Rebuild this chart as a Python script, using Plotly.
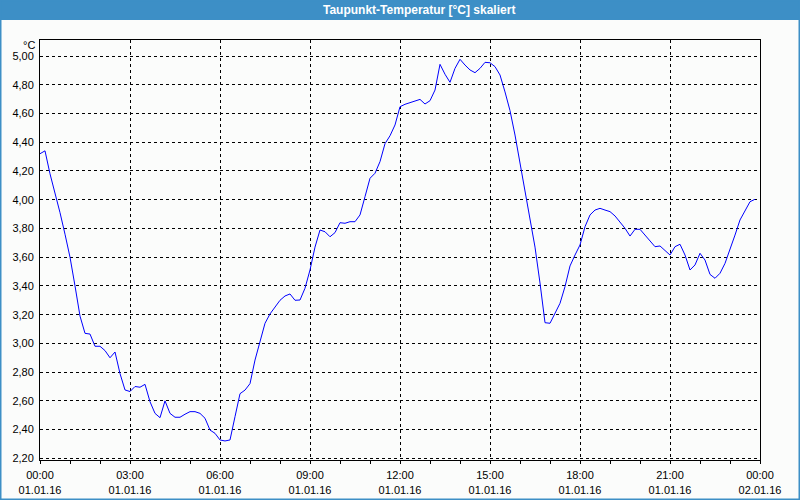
import pandas as pd
import plotly.graph_objects as go

# Dew point temperature, 10-minute samples from 01.01.16 00:00
values = [
    4.32, 4.34, 4.18, 4.05, 3.91, 3.76, 3.60, 3.40, 3.19, 3.07,
    3.065, 2.98, 2.98, 2.95, 2.90, 2.94, 2.79, 2.676, 2.665, 2.70,
    2.695, 2.715, 2.594, 2.513, 2.483, 2.60, 2.513, 2.486, 2.486, 2.507,
    2.525, 2.525, 2.513, 2.479, 2.397, 2.374, 2.328, 2.321, 2.328, 2.49,
    2.65, 2.675, 2.72, 2.884, 3.02, 3.14, 3.205, 3.255, 3.30, 3.33,
    3.344, 3.30, 3.302, 3.384, 3.511, 3.67, 3.789, 3.777, 3.742, 3.771,
    3.840, 3.836, 3.847, 3.847, 3.894, 4.021, 4.149, 4.184, 4.265, 4.39,
    4.445, 4.52, 4.647, 4.664, 4.675, 4.687, 4.698, 4.666, 4.689, 4.763,
    4.942, 4.873, 4.817, 4.914, 4.977, 4.937, 4.903, 4.884, 4.914, 4.956,
    4.953, 4.926, 4.868, 4.75, 4.62, 4.45, 4.26, 4.07, 3.87, 3.67,
    3.42, 3.144, 3.140, 3.21, 3.279, 3.395, 3.539, 3.615, 3.685, 3.812,
    3.894, 3.928, 3.940, 3.928, 3.917, 3.887, 3.847, 3.801, 3.747, 3.794,
    3.794, 3.754, 3.715, 3.673, 3.678, 3.645, 3.615, 3.673, 3.69, 3.615,
    3.511, 3.546, 3.627, 3.58, 3.48, 3.453, 3.488, 3.557, 3.650, 3.754,
    3.859, 3.928, 3.986, 4.003,
]
times = pd.date_range("2016-01-01 00:00", periods=len(values), freq="10min")

tick_times = ["2016-01-01 00:00", "2016-01-01 03:00", "2016-01-01 06:00",
              "2016-01-01 09:00", "2016-01-01 12:00", "2016-01-01 15:00",
              "2016-01-01 18:00", "2016-01-01 21:00", "2016-01-02 00:00"]
tick_labels = ["00:00<br>01.01.16", "03:00<br>01.01.16", "06:00<br>01.01.16",
               "09:00<br>01.01.16", "12:00<br>01.01.16", "15:00<br>01.01.16",
               "18:00<br>01.01.16", "21:00<br>01.01.16", "00:00<br>02.01.16"]

title_text = "Taupunkt-Temperatur [°C] skaliert"
unit_text = "°C"

BLUE = "#3d8fc6"
BG = "#fbfcfb"
FONT = "Liberation Sans"

W, H = 800, 500
L, R, T, B = 40, 40, 40, 40
pw, ph = W - L - R, H - T - B


def px_x(p):
    return (p - L) / pw


def px_y(p):
    return (H - B - p) / ph


fig = go.Figure()
fig.add_trace(go.Scatter(x=times, y=values, mode="lines",
                         line=dict(color="#0000ff", width=1),
                         hoverinfo="skip", showlegend=False))

fig.update_layout(
    width=W, height=H,
    margin=dict(l=L, r=R, t=T, b=B, pad=0, autoexpand=False),
    paper_bgcolor=BG, plot_bgcolor=BG,
    separators=",.",
    font=dict(family=FONT, size=11, color="black"),
    showlegend=False,
)

fig.update_xaxes(
    range=["2016-01-01 00:00", "2016-01-02 00:00"],
    tickvals=tick_times, ticktext=tick_labels,
    automargin=False,
    showline=True, linecolor="black", linewidth=1, mirror=True,
    ticks="outside", ticklen=3, tickcolor="black", tickwidth=1,
    ticklabelstandoff=2,
    showgrid=True, gridcolor="black", gridwidth=1, griddash="3px,3px",
    minor=dict(dtick=3600000, tick0="2016-01-01 00:00", ticks="outside",
               ticklen=3, tickcolor="black", showgrid=False),
    zeroline=False,
    tickfont=dict(family=FONT, size=11, color="black"),
)

fig.update_yaxes(
    range=[2.1885, 5.1114],
    tick0=2.2, dtick=0.2, tickformat=".2f",
    automargin=False,
    showline=True, linecolor="black", linewidth=1, mirror=True,
    ticks="", ticklabelstandoff=3,
    showgrid=True, gridcolor="black", gridwidth=1, griddash="3px,3px",
    zeroline=False,
    tickfont=dict(family=FONT, size=11, color="black"),
)

# title bar
fig.add_shape(type="rect", xref="paper", yref="paper",
              x0=px_x(0), x1=px_x(W), y0=px_y(20), y1=px_y(0),
              fillcolor=BLUE, line=dict(width=0), layer="above")
# outer border
fig.add_shape(type="rect", xref="paper", yref="paper",
              x0=px_x(0), x1=px_x(W), y0=px_y(H), y1=px_y(0),
              fillcolor="rgba(0,0,0,0)", line=dict(color=BLUE, width=3),
              layer="above")

fig.add_annotation(text=title_text, xref="paper", yref="paper",
                   x=px_x(419), y=px_y(10), xanchor="center", yanchor="middle",
                   showarrow=False,
                   font=dict(family=FONT, size=12, color="white", weight="bold"))
fig.add_annotation(text=unit_text, xref="paper", yref="paper",
                   x=0, y=px_y(45), xanchor="right", yanchor="middle",
                   xshift=-3, showarrow=False,
                   font=dict(family=FONT, size=11, color="black"))

fig.write_html("out.html")
